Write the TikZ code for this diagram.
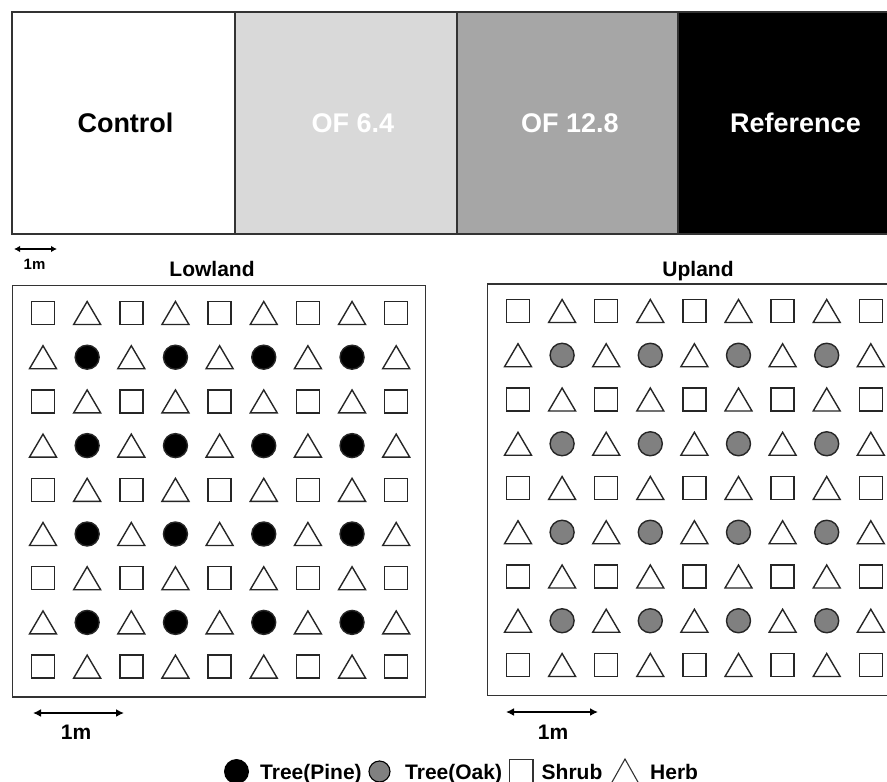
\documentclass[tikz,border=0pt]{standalone}
\usepackage{fontspec}
\setmainfont{Liberation Sans}
\usetikzlibrary{arrows.meta}
\definecolor{lightg}{HTML}{D9D9D9}
\definecolor{midg}{HTML}{A6A6A6}
\definecolor{oakg}{HTML}{808080}
\definecolor{edgec}{HTML}{333333}
\newcommand\plotgrid[5]{%
  \foreach \j in {0,...,8}{
    \foreach \i in {0,...,8}{
      \pgfmathsetmacro\cx{#1+#3*\i}
      \pgfmathsetmacro\cy{#2+#4*\j}
      \pgfmathtruncatemacro\tt{mod(\i+\j,2)}
      \pgfmathtruncatemacro\rr{mod(\j,2)}
      \ifnum\tt=1
        \draw[shp] (\cx-13.5,\cy+11.5) -- (\cx,\cy-11.5) -- (\cx+13.5,\cy+11.5) -- cycle;
      \else
        \ifnum\rr=0
          \draw[shp] (\cx-11.5,\cy-11.5) rectangle (\cx+11.5,\cy+11.5);
        \else
          \draw[shp,fill=#5] (\cx,\cy) circle[radius=12pt];
        \fi
      \fi
    }
  }%
}
\begin{document}
\begin{tikzpicture}[x=1pt,y=-1pt,
  shp/.style={draw=black!85, line width=1.4pt, fill=white},
  boxline/.style={draw=edgec, line width=1.4pt},
  toplbl/.style={font=\bfseries\fontsize{27}{30}\selectfont, inner sep=0pt, anchor=base},
  sitelbl/.style={font=\bfseries\fontsize{21}{24}\selectfont, inner sep=0pt, anchor=base},
  legtxt/.style={font=\bfseries\fontsize{21}{24}\selectfont, inner sep=0pt, anchor=base west},
  sclbl/.style={font=\bfseries\fontsize{21}{24}\selectfont, inner sep=0pt, anchor=base},
  scarrow/.style={line width=1.8pt, {Latex[length=8pt,width=8pt]}-{Latex[length=8pt,width=8pt]}}
]
\useasboundingbox (0,0) rectangle (887,782);
\clip (0,0) rectangle (887,782);

% treatment bar
\fill[white] (12,12) rectangle (235,234);
\fill[lightg] (235,12) rectangle (457,234);
\fill[midg] (457,12) rectangle (678,234);
\fill[black] (678,12) rectangle (910,234);
\draw[boxline] (12,12) rectangle (910,234);
\draw[boxline] (235,12) -- (235,234);
\draw[boxline] (457,12) -- (457,234);
\draw[boxline] (678,12) -- (678,234);
\node[toplbl] (ctl) at (125.5,132) {Control};
\node[toplbl,text=white] (of64) at (353,132) {OF 6.4};
\node[toplbl,text=white] (of128) at (570,132) {OF 12.8};
\node[toplbl,text=white] (refr) at (795.5,132) {Reference};

% small scale bar
\coordinate (sa) at (14,249);
\coordinate (sb) at (57,249);
\draw[line width=1.6pt, {Latex[length=6pt,width=6.5pt]}-{Latex[length=6pt,width=6.5pt]}] (sa) -- (sb);
\node[font=\bfseries\fontsize{15}{18}\selectfont, inner sep=0pt, anchor=base] (s1m) at (34.5,269) {1m};

% site labels
\node[sitelbl] (low) at (212,276) {Lowland};
\node[sitelbl] (upl) at (698,276) {Upland};

% plots
\draw[boxline] (12.5,285.5) rectangle (425.5,697);
\draw[boxline] (487.5,284) rectangle (900.5,695.5);
\plotgrid{43}{313}{44.15}{44.2}{black}
\plotgrid{518}{311}{44.1}{44.25}{oakg}

% bottom scale bars
\coordinate (la) at (33,713);
\coordinate (lb) at (124,713);
\draw[scarrow] (la) -- (lb);
\node[sclbl] (l1m) at (76,739) {1m};
\coordinate (ra) at (506,712);
\coordinate (rb) at (598,712);
\draw[scarrow] (ra) -- (rb);
\node[sclbl] (r1m) at (553,739) {1m};

% legend
\fill[black] (236.5,771.5) circle[radius=12.5pt];
\node[legtxt] (lpine) at (260,779) {Tree(Pine)};
\draw[line width=1.1pt, fill=oakg] (379.5,771.5) circle[radius=10.5pt];
\node[legtxt] (loak) at (405,779) {Tree(Oak)};
\draw[line width=1.1pt, draw=black!80, fill=white] (509.5,759.5) rectangle (533,784);
\node[legtxt] (lshrub) at (541.5,779) {Shrub};
\draw[line width=1.1pt, draw=black!80, fill=white] (611.5,783) -- (625,759) -- (638.5,783);
\node[legtxt] (lherb) at (650,779) {Herb};
\end{tikzpicture}
\end{document}
